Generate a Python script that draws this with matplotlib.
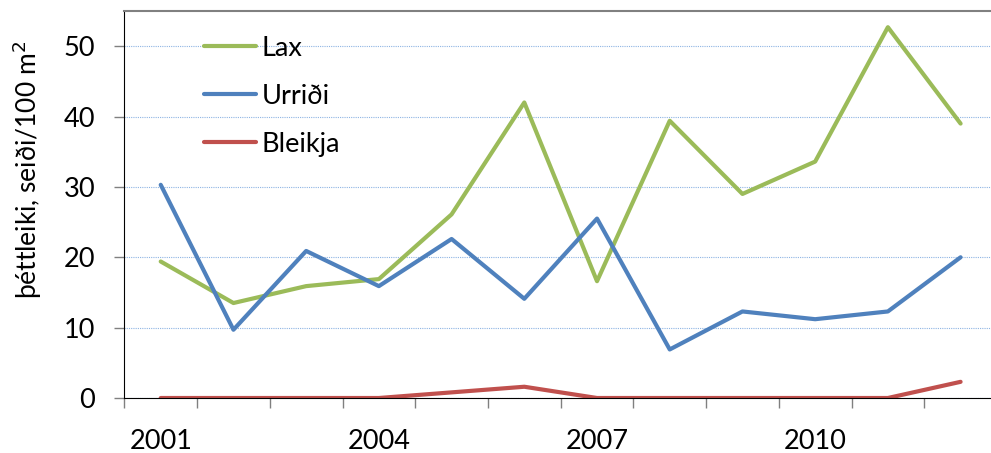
import matplotlib.pyplot as plt
from matplotlib.ticker import FixedLocator, NullFormatter, FixedFormatter

plt.rcParams['font.family'] = ['Lato', 'DejaVu Sans']

years = list(range(2001, 2013))
lax = [19.4, 13.5, 15.9, 16.9, 26.1, 42.0, 16.6, 39.4, 29.0, 33.6, 52.7, 39.0]
urridi = [30.3, 9.7, 20.9, 15.9, 22.6, 14.1, 25.5, 6.9, 12.3, 11.2, 12.3, 20.0]
bleikja = [0, 0, 0, 0, 0.8, 1.6, 0, 0, 0, 0, 0, 2.3]
year_labels = ['2001', '2004', '2007', '2010']

fig = plt.figure(figsize=(9.91, 4.53), dpi=100)
ax = fig.add_axes([0.1255, 0.1214, 0.8805, 0.8543])

x = list(range(1, len(years) + 1))
ax.plot(x, lax, color='#9BBB59', lw=3, label='Lax', solid_capstyle='round')
ax.plot(x, urridi, color='#4F81BD', lw=3, label='Urriði', solid_capstyle='round')
ax.plot(x, bleikja, color='#C0504D', lw=3, label='Bleikja', solid_capstyle='round')

ax.set_xlim(0.5, len(years) + 0.5)
ax.set_ylim(0, 55)

# category ticks sit between the years, labels every third year
ax.xaxis.set_major_locator(FixedLocator([i + 0.5 for i in range(0, len(years) + 1)]))
ax.xaxis.set_major_formatter(NullFormatter())
ax.xaxis.set_minor_locator(FixedLocator([years.index(int(y)) + 1 for y in year_labels]))
ax.xaxis.set_minor_formatter(FixedFormatter(year_labels))
ax.tick_params(axis='x', which='major', direction='out', length=7, width=1, color='#808080')
ax.tick_params(axis='x', which='minor', length=0, pad=22, labelsize=19.5)

ax.set_yticks([0, 10, 20, 30, 40, 50])
ax.tick_params(axis='y', direction='out', length=7, width=1, color='#808080', pad=14, labelsize=19.5)

ax.grid(axis='y', color='#8EB4E3', linestyle=(0, (1, 1)), linewidth=0.8)
ax.set_axisbelow(True)

ax.spines['right'].set_visible(False)
ax.spines['top'].set_color('#808080')
ax.spines['top'].set_linewidth(1.5)
ax.spines['left'].set_color('black')
ax.spines['bottom'].set_color('black')

fig.text(0.028, 0.625, 'þéttleiki, seiði/100 m$^2$', rotation=90, ha='center', va='center', fontsize=19)

ax.legend(loc='upper left', bbox_to_anchor=(0.07, 0.985), frameon=False, fontsize=19.5,
          handlelength=1.9, handletextpad=0.2, labelspacing=0.85, borderpad=0.2)

fig.savefig('out.png', dpi=100)
